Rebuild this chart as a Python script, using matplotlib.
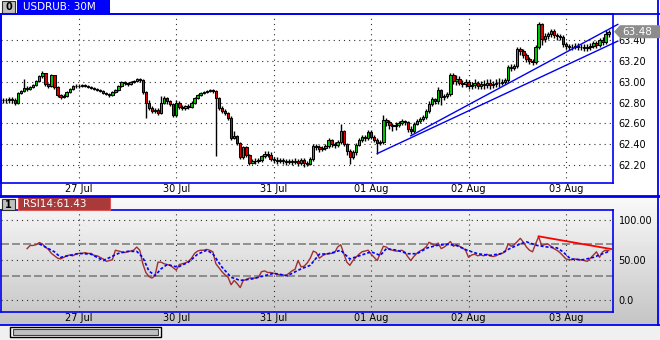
import numpy as np
import matplotlib
matplotlib.use("Agg")
import matplotlib.pyplot as plt
from matplotlib.patches import Rectangle, Polygon
from matplotlib.lines import Line2D
from matplotlib.transforms import blended_transform_factory

W, H = 660, 340

# 30M candles, prices in hundredths above 62.00
bar_open = [82, 82, 82, 83, 82, 80, 89, 91, 94, 93,
            95, 97, 101, 105, 108, 98, 96, 106, 95, 87,
            85, 86, 90, 93, 96, 96, 96, 97, 96, 95,
            94, 93, 92, 91, 89, 88, 87, 90, 92, 96,
            100, 99, 98, 100, 101, 103, 102, 90, 80, 75,
            72, 73, 70, 80, 84, 81, 79, 68, 80, 76,
            75, 77, 76, 80, 84, 87, 89, 90, 91, 92,
            91, 84, 75, 72, 70, 65, 46, 48, 41, 28,
            37, 30, 22, 24, 24, 25, 29, 31, 30, 26,
            25, 24, 25, 24, 23, 24, 23, 24, 22, 25,
            22, 21, 26, 38, 37, 35, 36, 38, 44, 40,
            39, 42, 53, 40, 33, 28, 32, 39, 44, 47,
            46, 52, 47, 44, 41, 42, 63, 61, 58, 57,
            58, 60, 62, 61, 55, 53, 59, 62, 64, 66,
            72, 79, 83, 81, 92, 85, 86, 88, 106, 101,
            103, 99, 98, 100, 96, 97, 99, 96, 98, 97,
            99, 97, 98, 99, 99, 100, 102, 114, 113, 115,
            131, 129, 126, 122, 120, 119, 133, 155, 141, 144,
            146, 149, 145, 144, 143, 136, 134, 133, 133, 134,
            133, 133, 132, 133, 134, 137, 135, 140, 138, 146]
bar_close = [82, 82, 83, 82, 80, 89, 91, 94, 93, 95,
             97, 101, 105, 108, 98, 96, 106, 95, 87, 85,
             86, 90, 93, 96, 96, 96, 97, 96, 95, 94,
             93, 92, 91, 89, 88, 87, 90, 92, 96, 100,
             99, 98, 100, 101, 103, 102, 90, 80, 75, 72,
             73, 70, 80, 84, 81, 79, 68, 80, 76, 75,
             77, 76, 80, 84, 87, 89, 90, 91, 92, 91,
             84, 75, 72, 70, 65, 46, 48, 41, 28, 37,
             30, 22, 24, 24, 25, 29, 31, 30, 26, 25,
             24, 25, 24, 23, 24, 23, 24, 22, 25, 22,
             21, 26, 38, 37, 35, 36, 38, 44, 40, 39,
             42, 53, 40, 33, 28, 32, 39, 44, 47, 46,
             52, 47, 44, 41, 42, 63, 61, 58, 57, 58,
             60, 62, 61, 55, 53, 59, 62, 64, 66, 72,
             79, 83, 81, 92, 85, 86, 88, 106, 101, 103,
             99, 98, 100, 96, 97, 99, 96, 98, 97, 99,
             97, 98, 99, 99, 100, 102, 114, 113, 115, 131,
             129, 126, 122, 120, 119, 133, 155, 141, 144, 146,
             149, 145, 144, 143, 136, 134, 133, 133, 134, 133,
             133, 132, 133, 134, 137, 135, 140, 138, 146, 148]
bar_high = [84, 84, 85, 85, 84, 90, 92, 103, 96, 96,
            98, 102, 106, 110, 108, 99, 107, 106, 96, 88,
            88, 91, 94, 97, 98, 98, 98, 98, 97, 96,
            95, 94, 93, 92, 90, 89, 91, 93, 97, 101,
            101, 100, 101, 102, 104, 104, 103, 91, 82, 77,
            75, 75, 86, 86, 85, 82, 80, 82, 81, 78,
            78, 79, 81, 85, 88, 90, 91, 92, 93, 93,
            92, 85, 77, 74, 71, 67, 53, 49, 42, 38,
            38, 31, 26, 27, 27, 30, 33, 33, 32, 28,
            28, 27, 27, 26, 26, 26, 27, 26, 27, 27,
            24, 28, 40, 40, 39, 38, 40, 46, 45, 42,
            44, 59, 54, 41, 35, 34, 41, 46, 49, 49,
            54, 54, 49, 46, 44, 68, 65, 63, 60, 61,
            62, 64, 63, 62, 57, 61, 64, 66, 68, 74,
            81, 85, 84, 95, 93, 88, 90, 108, 108, 106,
            105, 102, 103, 102, 100, 103, 101, 101, 102, 103,
            103, 101, 103, 104, 103, 104, 116, 117, 117, 133,
            133, 131, 128, 124, 122, 135, 157, 156, 147, 148,
            151, 151, 147, 146, 145, 138, 136, 136, 137, 137,
            136, 136, 136, 137, 139, 139, 142, 143, 150, 150]
bar_low = [80, 80, 80, 80, 78, 79, 88, 90, 91, 92,
           94, 96, 100, 104, 96, 94, 95, 93, 85, 83,
           84, 85, 89, 92, 94, 94, 95, 95, 94, 93,
           92, 91, 90, 88, 87, 85, 86, 89, 91, 95,
           97, 96, 97, 99, 100, 100, 88, 65, 73, 70,
           70, 68, 69, 79, 79, 77, 66, 66, 74, 73,
           73, 74, 75, 79, 83, 86, 88, 89, 90, 89,
           29, 73, 70, 68, 63, 44, 45, 39, 26, 26,
           28, 20, 21, 21, 22, 23, 27, 28, 24, 22,
           21, 22, 21, 20, 21, 20, 21, 19, 20, 18,
           19, 20, 24, 34, 32, 33, 34, 36, 37, 36,
           37, 40, 38, 30, 21, 26, 30, 38, 42, 43,
           44, 45, 42, 31, 39, 40, 57, 55, 53, 54,
           56, 58, 58, 52, 50, 51, 58, 60, 62, 64,
           70, 77, 79, 79, 78, 82, 84, 86, 98, 97,
           97, 95, 95, 93, 93, 94, 93, 93, 93, 94,
           93, 94, 95, 95, 97, 98, 100, 110, 111, 113,
           126, 123, 119, 117, 116, 117, 131, 135, 138, 141,
           143, 142, 140, 140, 133, 131, 130, 130, 131, 130,
           130, 129, 129, 130, 132, 132, 133, 135, 136, 143]

day_start = [25, 57, 89, 121, 153, 185]
day_labels = ["27 Jul", "30 Jul", "31 Jul", "01 Aug", "02 Aug", "03 Aug"]
price_ticks = [62.2, 62.4, 62.6, 62.8, 63.0, 63.2, 63.4]

# RSI(14) from bar 8 on
rsi_first_bar = 8
rsi = [64, 68, 68, 69, 71.6, 70, 66, 63, 58, 55,
       52, 51, 53, 55, 56, 55, 57, 58, 58, 59,
       58, 58, 55.5, 55, 53, 51, 48, 49, 50, 62,
       61, 60, 59, 60, 61, 62, 66, 62, 45, 34,
       29, 27, 30, 47, 47, 45, 44, 43, 40, 37,
       44, 45, 46, 48, 52, 58, 61, 62, 62, 63,
       62, 60, 45, 40, 35, 31, 28, 18.6, 24, 20,
       15, 24, 25, 27, 27, 27, 28, 35, 36, 34,
       34, 33, 32, 31, 31, 30, 33, 36, 38, 49,
       41, 42, 46, 52, 61, 59, 52, 55, 57, 58,
       58, 59, 66, 69, 58, 47, 43, 49, 53, 57,
       60, 61, 62, 57, 53, 49, 58, 67, 66, 63,
       62, 61, 61, 62, 60, 54, 49, 54, 58, 61,
       63, 66, 72, 70, 68, 71, 64, 66, 69, 73,
       67, 69, 67, 65, 62, 53, 56, 57, 55, 56,
       55, 57, 55, 54, 55, 57, 58, 60, 70, 67,
       69, 73, 77, 72, 66, 62, 60, 70, 79, 68,
       69, 70, 67, 64, 62, 59, 55, 51, 50, 50,
       51, 50, 50, 49, 48, 52, 56, 60, 53, 60,
       62, 61.43]
# signal line (blue, dashed)
sig_bar = [12, 17, 19, 25, 29, 33, 38, 41, 44, 46, 48, 50, 52, 54, 57.5,
           61, 64, 67, 69, 72, 75, 78, 82, 86, 89, 93.5, 98, 101, 104, 107,
           111, 114, 117.5, 121, 124, 126, 129.5, 133, 136, 139.5, 142.5,
           146, 149, 152.5, 156, 160, 163.5, 166.5, 170, 172, 175.5, 179,
           182, 184, 186.5, 190.5, 194, 197, 199.5]
sig_val = [70, 60, 53, 58, 57, 49, 58, 60.6, 60.6, 53, 36, 30, 38.6, 44, 40.7,
           47, 57, 62, 57.6, 40.7, 28, 24, 26, 30, 33, 30, 38.6, 43, 57, 57.6,
           62, 51, 55.5, 60, 55.5, 64, 62, 57.6, 57.6, 65, 68,
           69.5, 68, 62, 57.6, 55.5, 57.6, 64, 70, 72.5, 68, 66,
           65, 60, 51, 50, 53, 57.6, 61]

trend_upper_x, trend_upper_y = [134, 202], [62.48, 63.55]
trend_lower_x, trend_lower_y = [123, 202], [62.31, 63.39]
rsi_trend_x, rsi_trend_y = [176, 199.8], [79.5, 63.5]

BLUE = "#0000f0"
GRID = "#303030"

fig = plt.figure(figsize=(W / 100, H / 100), dpi=100)
fig.patch.set_facecolor("white")


def px_rect(x, y, w, h, **kw):
    fig.add_artist(Rectangle((x / W, 1 - (y + h) / H), w / W, h / H,
                             transform=fig.transFigure, **kw))


def px_line(x0, y0, x1, y1, **kw):
    fig.add_artist(Line2D([x0 / W, x1 / W], [1 - y0 / H, 1 - y1 / H],
                          transform=fig.transFigure, **kw))


def px_text(x, y, s, **kw):
    fig.text(x / W, 1 - y / H, s, va="center", **kw)


# lower panel gradient background
bg = fig.add_axes([0, 1 - 325 / H, 1, 128 / H], zorder=-5)
bg.imshow(np.linspace(0.975, 0.77, 64)[:, None], cmap="gray", vmin=0, vmax=1,
          aspect="auto", extent=[0, 1, 0, 1])
bg.axis("off")

# bottom strip with scroll bar
px_rect(0, 326, W, 14, facecolor="#f0f0f0", edgecolor="none")
px_rect(10, 327, 151, 10, facecolor="white", edgecolor="black", lw=1)
px_rect(13, 329, 145, 6, facecolor="#c0c0c0", edgecolor="#404040", lw=0.8)

# ---- price panel
n = len(bar_close)
idx = np.arange(n)
o = 62 + np.array(bar_open) / 100
c = 62 + np.array(bar_close) / 100
hi = 62 + np.array(bar_high) / 100
lo = 62 + np.array(bar_low) / 100

ax = fig.add_axes([1 / W, 1 - 183 / H, 612 / W, 169 / H])
ax.set_facecolor("white")
ax.set_xlim(-0.57, 200.43)
ax.set_ylim(62.027, 63.65)
for p in price_ticks:
    ax.axhline(p, color=GRID, lw=0.8, ls=(0, (1, 3.6)), zorder=1)
for d in day_start:
    ax.axvline(d, color=GRID, lw=0.8, ls=(0, (1, 3.6)), zorder=1)

ax.vlines(idx, lo, hi, color="black", lw=1.0, zorder=2)
cols = np.where(c > o, "#00c800", np.where(c < o, "#e00000", "black"))
ax.bar(idx, c - o, bottom=o, width=0.78, color=cols, edgecolor="black",
       linewidth=0.75, zorder=3)

ax.plot(trend_upper_x, trend_upper_y, color=BLUE, lw=1, clip_on=False, zorder=4)
ax.plot(trend_lower_x, trend_lower_y, color=BLUE, lw=1, clip_on=False, zorder=4)

ax.yaxis.tick_right()
ax.set_yticks(price_ticks)
ax.set_yticklabels([f"{p:.2f}" for p in price_ticks])
ax.set_xticks(day_start)
ax.set_xticklabels(day_labels)
ax.tick_params(axis="both", length=0, labelsize=7)
ax.tick_params(axis="y", pad=4)
ax.tick_params(axis="x", pad=0.5)
for s in ax.spines.values():
    s.set_color(BLUE)
    s.set_linewidth(1.2)

# last price marker
last = c[-1]
tr = blended_transform_factory(fig.transFigure, ax.transData)
dh = 6.5 / 104
fig.add_artist(Polygon([(614 / W, last), (620 / W, last + dh), (1, last + dh),
                        (1, last - dh), (620 / W, last - dh)], closed=True,
                       transform=tr, facecolor="#8c8c8c", edgecolor="none",
                       zorder=5))
fig.add_artist(matplotlib.text.Text(622 / W, last, f"{last:.2f}", color="white",
                                    fontsize=7.5, va="center", transform=tr,
                                    zorder=6))

# ---- RSI panel
ax2 = fig.add_axes([1 / W, 1 - 312 / H, 612 / W, 102 / H])
ax2.set_facecolor("none")
ax2.set_xlim(-0.57, 200.43)
ax2.set_ylim(-15.7, 112.6)
for lv in [0, 50, 100]:
    ax2.axhline(lv, color=GRID, lw=0.8, ls=(0, (1, 3.6)), zorder=1)
for d in day_start:
    ax2.axvline(d, color=GRID, lw=0.8, ls=(0, (1, 3.6)), zorder=1)
for lv in [30, 70]:
    ax2.axhline(lv, color="#808080", lw=1.2, ls=(0, (4.8, 1.8)), zorder=1)

ax2.plot(np.arange(rsi_first_bar, rsi_first_bar + len(rsi)), rsi,
         color="#a03030", lw=1, zorder=3)
ax2.plot(sig_bar, sig_val, color="#0000ff", lw=1.2, ls=(0, (1.8, 1.2)),
         zorder=4)
ax2.plot(rsi_trend_x, rsi_trend_y, color="#ff0000", lw=1.3, zorder=5)

ax2.yaxis.tick_right()
ax2.set_yticks([0, 50, 100])
ax2.set_yticklabels(["0.0", "50.00", "100.00"])
ax2.set_xticks(day_start)
ax2.set_xticklabels(day_labels)
ax2.tick_params(axis="both", length=0, labelsize=7)
ax2.tick_params(axis="y", pad=4)
ax2.tick_params(axis="x", pad=1)
for s in ax2.spines.values():
    s.set_color(BLUE)
    s.set_linewidth(1.2)

# ---- frame lines and headers
px_line(0, 14, W, 14, color=BLUE, lw=1.3)
px_line(0.5, 14, 0.5, 197, color=BLUE, lw=1.3)
px_line(658, 0, 658, 325, color=BLUE, lw=1.3)
px_line(0, 196, W, 196, color=BLUE, lw=2)
px_line(0, 325, W, 325, color=BLUE, lw=1.3)

px_rect(2, 1, 13, 12, facecolor="#c0c0c0", edgecolor="#303030", lw=0.8)
px_text(8.5, 7, "0", fontsize=7, fontweight="bold", ha="center", color="black")
px_rect(17, 0, 93, 14, facecolor="#0000ff", edgecolor="none")
px_text(23, 7.5, "USDRUB: 30M", fontsize=7.5, color="white")

px_rect(2, 199, 13, 11, facecolor="#c0c0c0", edgecolor="#303030", lw=0.8)
px_text(8.5, 204.5, "1", fontsize=7, fontweight="bold", ha="center", color="black")
px_rect(18, 197, 92, 13, facecolor="#a83a3a", edgecolor="#e05555", lw=0.8)
px_text(23, 204, "RSI14:61.43", fontsize=7.5, color="white")

fig.savefig("out.png", dpi=100)
